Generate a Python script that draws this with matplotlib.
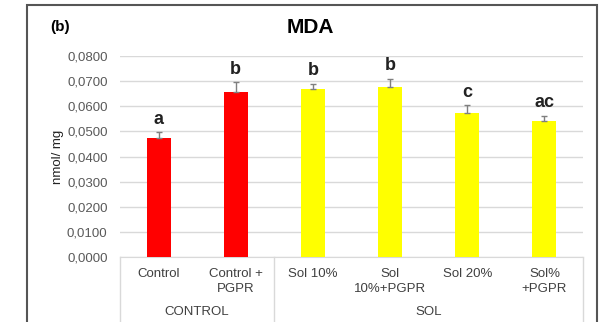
import numpy as np
import matplotlib.pyplot as plt
from matplotlib.patches import Rectangle

plt.rcParams['font.family'] = ['Liberation Sans', 'DejaVu Sans']

# MDA content per treatment
labels = ['Control', 'Control +\nPGPR', 'Sol 10%', 'Sol\n10%+PGPR', 'Sol 20%', 'Sol%\n+PGPR']
values = [0.0472, 0.0657, 0.0669, 0.0677, 0.0574, 0.0542]
errors = [0.0024, 0.0038, 0.0020, 0.0032, 0.0030, 0.0021]
letters = ['a', 'b', 'b', 'b', 'c', 'ac']
colors = ['#ff0000', '#ff0000', '#ffff00', '#ffff00', '#ffff00', '#ffff00']
groups = ['CONTROL', 'SOL']
group_sizes = [2, 4]

fig = plt.figure(figsize=(6, 3.22), dpi=100)
ax = fig.add_axes([0.2, 0.2019, 0.7717, 0.624])

x = np.arange(len(values))
ax.bar(x, values, width=0.31, color=colors, zorder=3)
ax.errorbar(x, values, yerr=[np.zeros(len(errors)), errors], fmt='none',
            ecolor='#7f7f7f', elinewidth=1, capsize=2, capthick=1, zorder=4)

for xi, v, e, l in zip(x, values, errors, letters):
    ax.text(xi, v + e + 0.0018, l, ha='center', va='bottom',
            fontsize=13, fontweight='bold', color='#222222')

ax.set_xlim(-0.5, len(values) - 0.5)
ax.set_ylim(0, 0.08)
ticks = np.arange(0, 0.0801, 0.01)
ax.set_yticks(ticks)
ax.set_yticklabels([f'{t:.4f}'.replace('.', ',') for t in ticks])
ax.yaxis.grid(True, color='#d9d9d9', lw=1, zorder=0)
ax.tick_params(axis='y', length=0, labelsize=9.5, labelcolor='#595959', pad=9)
ax.set_xticks(x)
ax.set_xticklabels(labels, fontsize=9.5, color='#404040', linespacing=1.3)
ax.tick_params(axis='x', length=0, pad=8)
for s in ['top', 'right', 'left']:
    ax.spines[s].set_visible(False)
ax.spines['bottom'].set_color('#d9d9d9')

ax.set_ylabel('nmol/ mg', fontsize=9.5, color='#222222', labelpad=2)

# group box lines under the axis
trans = ax.get_xaxis_transform()
edges = np.cumsum([0] + group_sizes) - 0.5
for xe in edges:
    ax.plot([xe, xe], [0, -0.35], color='#d9d9d9', lw=1, transform=trans, clip_on=False)
for g, a, b in zip(groups, edges[:-1], edges[1:]):
    ax.text((a + b) / 2, -0.275, g, ha='center', va='center', fontsize=9.5,
            color='#404040', transform=trans)

fig.text(0.5167, 0.915, 'MDA', ha='center', va='center', fontsize=15, fontweight='bold')
fig.text(0.083, 0.915, '(b)', ha='left', va='center', fontsize=11, fontweight='bold')

fig.patches.append(Rectangle((27 / 600, -0.1), 570 / 600, 1.1 - 5 / 322, transform=fig.transFigure,
                             fill=False, edgecolor='#555555', lw=1.5))

plt.savefig('out.png', dpi=100)
